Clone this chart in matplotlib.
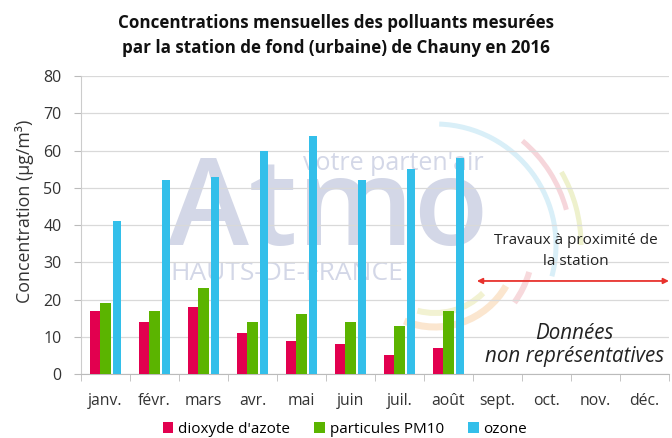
import numpy as np
import matplotlib.pyplot as plt
from matplotlib.patches import Arc

mois = ["janv.", "févr.", "mars", "avr.", "mai", "juin", "juil.", "août",
        "sept.", "oct.", "nov.", "déc."]
no2 = [17, 14, 18, 11, 9, 8, 5, 7]
pm10 = [19, 17, 23, 14, 16, 14, 13, 17]
ozone = [41, 52, 53, 60, 64, 52, 55, 58]

c_no2 = "#E2004F"
c_pm10 = "#5BB400"
c_o3 = "#33BFEA"
c_wm = "#d3d7e7"

plt.rcParams['font.family'] = ['Open Sans', 'DejaVu Sans']

fig = plt.figure(figsize=(6.72, 4.38), dpi=100)
ax = fig.add_axes([0.1205, 0.146, 0.875, 0.680])

# logo en filigrane (arcs), positionnés en pixels de la figure
px = fig.dpi_scale_trans
def arc(cx, cy, r, t1, t2, col, lw=5):
    ax.add_patch(Arc((cx / 100, (438 - cy) / 100), 2 * r / 100, 2 * r / 100,
                     theta1=t1, theta2=t2, color=col, lw=lw * 0.72,
                     transform=px, zorder=0.4, clip_on=False))
arc(435, 245, 121, -15, 88, "#d9eff8")
arc(435, 245, 136, 15, 50, "#f6d6db")
arc(435, 245, 146, 0, 30, "#eef1cd")
arc(435, 245, 82, -112, -30, "#fbe6cf", 7)
arc(435, 245, 68, -105, -45, "#f2f2d2", 6)
arc(435, 245, 98, -36, -16, "#f7d9dc", 6)

x = np.arange(len(no2))
w = 0.21
ax.bar(x - w, no2, w, color=c_no2, label="dioxyde d'azote", zorder=3)
ax.bar(x, pm10, w, color=c_pm10, label="particules PM10", zorder=3)
ax.bar(x + w + 0.03, ozone, w * 0.8, color=c_o3, label="ozone", zorder=3)

ax.set_xlim(-0.5, 11.5)
ax.set_ylim(0, 80)
ax.set_yticks(range(0, 81, 10))
ax.set_xticks(range(12))
ax.set_xticklabels(mois, fontsize=11.3, color="#333333")
ax.set_xticks(np.arange(-0.5, 12, 1), minor=True)
ax.tick_params(axis='x', which='major', length=0, pad=14)
ax.tick_params(axis='x', which='minor', length=5, color="#bbbbbb")
ax.tick_params(axis='y', length=5, color="#bbbbbb", labelsize=11.5,
               labelcolor="#333333", pad=9)
ax.grid(axis='y', color="#d9d9d9", linewidth=0.9, zorder=1)
ax.patch.set_alpha(0)
for s in ["top", "right"]:
    ax.spines[s].set_visible(False)
ax.spines["left"].set_color("#cccccc")
ax.spines["bottom"].set_color("#bbbbbb")
ax.set_ylabel("Concentration (µg/m³)", fontsize=12.8, color="#333333")
ax.yaxis.set_label_coords(-0.08, 0.547)

# filigrane texte
ax.text(4.55, 43.2, "Atmo", fontsize=88, fontweight='semibold', color=c_wm,
        ha='center', va='center', zorder=0.5)
ax.text(5.87, 56.5, "votre parten'air", fontsize=18, color=c_wm,
        ha='center', va='center', zorder=0.5)
ax.text(3.7, 27, "HAUTS-DE-FRANCE", fontsize=19, color=c_wm,
        ha='center', va='center', zorder=0.5)

ax.annotate("", xy=(7.58, 25), xytext=(11.5, 25),
            arrowprops=dict(arrowstyle="<|-|>", color="#e8322d", lw=1.3,
                            mutation_scale=8, shrinkA=0, shrinkB=0),
            zorder=4, annotation_clip=False)
ax.text(9.6, 33, "Travaux à proximité de\nla station", fontsize=11,
        ha='center', va='center', color="#222222", linespacing=1.55, zorder=4)
ax.text(9.57, 7.8, "Données\nnon représentatives", fontsize=14.8, style='italic',
        ha='center', va='center', color="#222222", linespacing=1.15, zorder=4)

fig.text(0.5, 0.918, "Concentrations mensuelles des polluants mesurées\npar la station de fond (urbaine) de Chauny en 2016",
         fontsize=12.25, fontweight='bold', ha='center', va='center', linespacing=1.5,
         color="#111111")

ax.legend(loc='center', bbox_to_anchor=(0.449, -0.185), ncol=3, frameon=False,
          fontsize=11, handlelength=0.7, handleheight=0.7, handletextpad=0.3,
          columnspacing=1.6)

fig.savefig("out.png", dpi=100)
